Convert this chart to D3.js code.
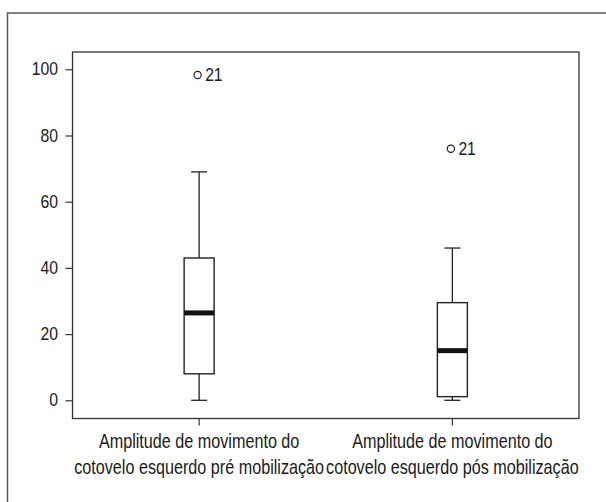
<!DOCTYPE html>
<html>
<head>
<meta charset="utf-8">
<script src="https://cdn.jsdelivr.net/npm/d3@7"></script>
<style>
  body { margin: 0; background: #fff; }
  svg { display: block; }
  text { font-family: "Liberation Sans", Arial, sans-serif; fill: #1a1a1a; }
</style>
</head>
<body>
<svg id="chart" width="606" height="502"></svg>
<script>
const categories = ["pre", "pos"];
const categoryLabels = [
  ["Amplitude de movimento do", "cotovelo esquerdo pré mobilização"],
  ["Amplitude de movimento do", "cotovelo esquerdo pós mobilização"]
];
const whiskerLow  = [0, 0];
const q1          = [8, 1.1];
const median      = [26.4, 15];
const q3          = [43, 29.5];
const whiskerHigh = [69, 46];
const outlierValues = [98.3, 76];
const outlierLabels = ["21", "21"];
const yTicks = [0, 20, 40, 60, 80, 100];

const svg = d3.select("#chart");
const plot = { left: 72.5, top: 52, right: 579, bottom: 418.5 };

// outer frame (clipped at right and bottom)
svg.append("rect")
  .attr("x", 7.5).attr("y", 13)
  .attr("width", 620).attr("height", 520)
  .attr("fill", "none").attr("stroke", "#555").attr("stroke-width", 1.5);

const y = d3.scaleLinear().domain([0, 100]).range([400.3, 69.3]);
const x = d3.scaleBand().domain(categories).range([plot.left, plot.right]).paddingInner(0).paddingOuter(0);

// plot frame
svg.append("rect")
  .attr("x", plot.left).attr("y", plot.top)
  .attr("width", plot.right - plot.left).attr("height", plot.bottom - plot.top)
  .attr("fill", "none").attr("stroke", "#333").attr("stroke-width", 1.3);

// y axis (condensed glyphs via horizontal scale)
const yAxis = d3.axisLeft(y).tickValues(yTicks).tickSize(7).tickPadding(9);
const gy = svg.append("g").attr("transform", `translate(${plot.left},0)`).call(yAxis);
gy.select(".domain").remove();
gy.selectAll(".tick line").attr("stroke", "#333").attr("stroke-width", 1.2);
gy.selectAll(".tick text").attr("font-size", 17.5).attr("font-family", null).attr("fill", "#1a1a1a")
  .attr("transform", "scale(0.9,1)");

// x axis
const xAxis = d3.axisBottom(x).tickSize(7).tickFormat("");
const gx = svg.append("g").attr("transform", `translate(0,${plot.bottom})`).call(xAxis);
gx.select(".domain").remove();
gx.selectAll(".tick line").attr("stroke", "#333").attr("stroke-width", 1.2);

// x labels
categories.forEach((c, i) => {
  const cx = x(c) + x.bandwidth() / 2;
  categoryLabels[i].forEach((line, j) => {
    svg.append("text").attr("text-anchor", "middle").attr("font-size", 19.5)
      .attr("transform", `translate(${cx},${448 + j * 26}) scale(0.83,1)`)
      .text(line);
  });
});

// boxes
const boxW = 30, capW = 16;
categories.forEach((c, i) => {
  const cx = x(c) + x.bandwidth() / 2;
  const g = svg.append("g");
  g.append("line").attr("x1", cx).attr("x2", cx).attr("y1", y(whiskerHigh[i])).attr("y2", y(q3[i]))
    .attr("stroke", "#222").attr("stroke-width", 1.3);
  g.append("line").attr("x1", cx).attr("x2", cx).attr("y1", y(q1[i])).attr("y2", y(whiskerLow[i]))
    .attr("stroke", "#222").attr("stroke-width", 1.3);
  [whiskerHigh[i], whiskerLow[i]].forEach(v => {
    g.append("line").attr("x1", cx - capW / 2).attr("x2", cx + capW / 2).attr("y1", y(v)).attr("y2", y(v))
      .attr("stroke", "#222").attr("stroke-width", 1.3);
  });
  g.append("rect").attr("x", cx - boxW / 2).attr("y", y(q3[i]))
    .attr("width", boxW).attr("height", y(q1[i]) - y(q3[i]))
    .attr("fill", "#fff").attr("stroke", "#222").attr("stroke-width", 1.4);
  g.append("line").attr("x1", cx - boxW / 2).attr("x2", cx + boxW / 2).attr("y1", y(median[i])).attr("y2", y(median[i]))
    .attr("stroke", "#111").attr("stroke-width", 5);
  g.append("circle").attr("cx", cx - 1.5).attr("cy", y(outlierValues[i])).attr("r", 3.6)
    .attr("fill", "none").attr("stroke", "#222").attr("stroke-width", 1.2);
  g.append("text").attr("font-size", 17.5)
    .attr("transform", `translate(${cx + 6},${y(outlierValues[i]) + 6}) scale(0.9,1)`)
    .text(outlierLabels[i]);
});
</script>
</body>
</html>
